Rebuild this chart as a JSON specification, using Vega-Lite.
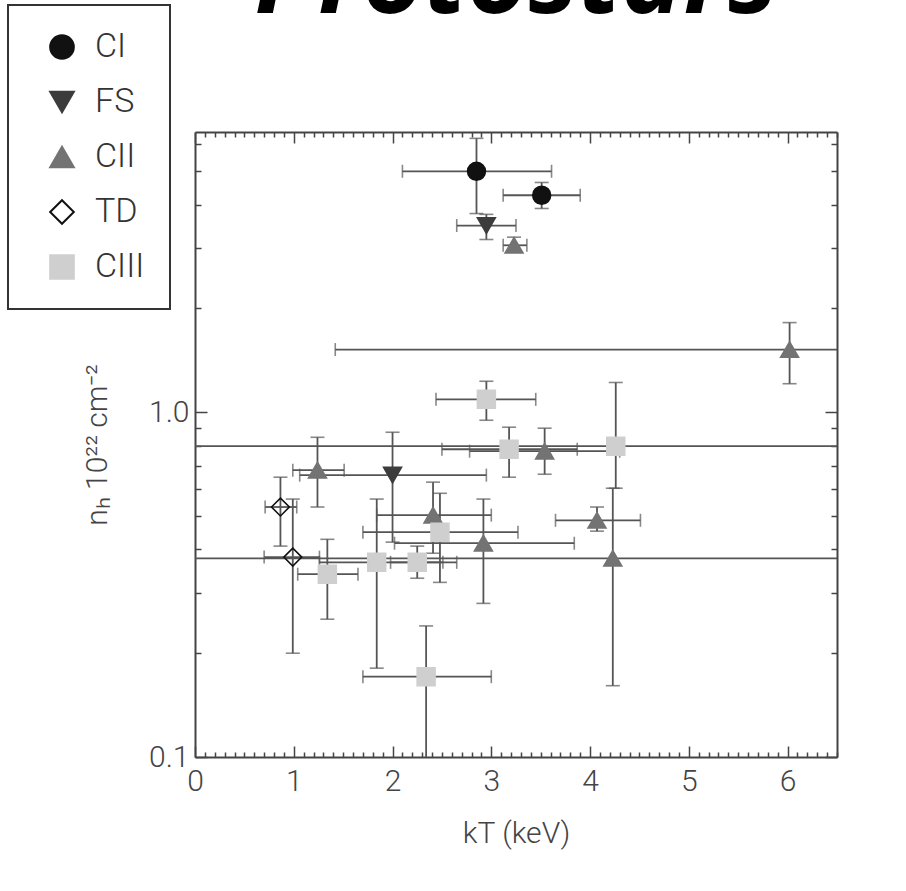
{
  "$schema": "https://vega.github.io/schema/vega-lite/v6.json",
  "width": 642,
  "height": 625,
  "autosize": "none",
  "padding": {"left": 195, "top": 132, "right": 69, "bottom": 134},
  "background": "white",
  "title": {"text": "Protostars", "font": "Open Sans", "fontSize": 105, "fontStyle": "italic", "fontWeight": "bold", "color": "#000000", "anchor": "middle", "frame": "group", "baseline": "alphabetic", "offset": 0, "dy": 114},
  "data": {"values": [
    {"cls": "CI", "x": 2.85, "y": 5.00, "xlo": 2.10, "xhi": 3.61, "ylo": 3.77, "yhi": 6.23},
    {"cls": "CI", "x": 3.51, "y": 4.26, "xlo": 3.12, "xhi": 3.90, "ylo": 3.90, "yhi": 4.64},
    {"cls": "FS", "x": 2.95, "y": 3.48, "xlo": 2.65, "xhi": 3.25, "ylo": 3.17, "yhi": 3.75},
    {"cls": "CII", "x": 3.23, "y": 3.05, "xlo": 3.12, "xhi": 3.36, "ylo": 2.95, "yhi": 3.22},
    {"cls": "CII", "x": 6.02, "y": 1.52, "xlo": 1.42, "xhi": 8.0, "ylo": 1.21, "yhi": 1.82},
    {"cls": "CIII", "x": 2.95, "y": 1.09, "xlo": 2.44, "xhi": 3.45, "ylo": 0.948, "yhi": 1.23},
    {"cls": "CIII", "x": 4.26, "y": 0.797, "xlo": -1.0, "xhi": 8.0, "ylo": 0.602, "yhi": 1.22},
    {"cls": "CIII", "x": 3.18, "y": 0.781, "xlo": 2.50, "xhi": 3.87, "ylo": 0.648, "yhi": 0.905},
    {"cls": "CII", "x": 3.54, "y": 0.771, "xlo": 2.78, "xhi": 4.30, "ylo": 0.661, "yhi": 0.899},
    {"cls": "CII", "x": 1.24, "y": 0.679, "xlo": 0.99, "xhi": 1.51, "ylo": 0.531, "yhi": 0.846},
    {"cls": "FS", "x": 2.00, "y": 0.657, "xlo": 1.06, "xhi": 2.95, "ylo": 0.420, "yhi": 0.875},
    {"cls": "TD", "x": 0.865, "y": 0.531, "xlo": 0.71, "xhi": 1.03, "ylo": 0.409, "yhi": 0.648},
    {"cls": "TD", "x": 0.99, "y": 0.380, "xlo": 0.70, "xhi": 1.26, "ylo": 0.200, "yhi": 0.560},
    {"cls": "CIII", "x": 1.34, "y": 0.339, "xlo": 1.04, "xhi": 1.65, "ylo": 0.251, "yhi": 0.428},
    {"cls": "CIII", "x": 1.84, "y": 0.367, "xlo": 1.26, "xhi": 2.51, "ylo": 0.181, "yhi": 0.560},
    {"cls": "CIII", "x": 2.25, "y": 0.367, "xlo": 1.98, "xhi": 2.65, "ylo": 0.330, "yhi": 0.409},
    {"cls": "CII", "x": 2.41, "y": 0.503, "xlo": 1.84, "xhi": 3.00, "ylo": 0.390, "yhi": 0.627},
    {"cls": "CIII", "x": 2.48, "y": 0.449, "xlo": 1.70, "xhi": 3.27, "ylo": 0.321, "yhi": 0.582},
    {"cls": "CII", "x": 2.92, "y": 0.417, "xlo": 2.02, "xhi": 3.84, "ylo": 0.279, "yhi": 0.560},
    {"cls": "CII", "x": 4.07, "y": 0.486, "xlo": 3.65, "xhi": 4.51, "ylo": 0.452, "yhi": 0.531},
    {"cls": "CII", "x": 4.23, "y": 0.377, "xlo": -1.0, "xhi": 8.0, "ylo": 0.161, "yhi": 0.602},
    {"cls": "CIII", "x": 2.34, "y": 0.171, "xlo": 1.70, "xhi": 3.00, "ylo": 0.05, "yhi": 0.240}
  ]},
  "layer": [
    {
      "mark": {"type": "rule", "color": "#555555", "strokeWidth": 1.8, "clip": true},
      "encoding": {
        "x": {"field": "xlo", "type": "quantitative", "scale": {"domain": [0, 6.5], "nice": false, "zero": false},
          "axis": {"orient": "top", "values": [0,0.1,0.2,0.3,0.4,0.5,0.6,0.7,0.8,0.9,1,1.1,1.2,1.3,1.4,1.5,1.6,1.7,1.8,1.9,2,2.1,2.2,2.3,2.4,2.5,2.6,2.7,2.8,2.9,3,3.1,3.2,3.3,3.4,3.5,3.6,3.7,3.8,3.9,4,4.1,4.2,4.3,4.4,4.5,4.6,4.7,4.8,4.9,5,5.1,5.2,5.3,5.4,5.5,5.6,5.7,5.8,5.9,6,6.1,6.2,6.3,6.4,6.5],
            "labels": false, "title": null, "grid": false,
            "tickSize": {"condition": {"test": "datum.value % 1 === 0", "value": -11}, "value": -5}}},
        "x2": {"field": "xhi"},
        "y": {"field": "y", "type": "quantitative", "scale": {"type": "log", "domain": [0.1, 6.5], "nice": false},
          "axis": {"orient": "right", "values": [0.1,0.2,0.3,0.4,0.5,0.6,0.7,0.8,0.9,1,2,3,4,5,6],
            "labels": false, "title": null, "grid": false,
            "tickSize": {"condition": {"test": "datum.value === 1 || datum.value === 0.1", "value": -12}, "value": -6}}}
      }
    },
    {
      "mark": {"type": "rule", "color": "#555555", "strokeWidth": 1.8, "clip": true},
      "encoding": {
        "x": {"field": "x", "type": "quantitative", "scale": {"domain": [0, 6.5], "nice": false, "zero": false}, "axis": null},
        "y": {"field": "ylo", "type": "quantitative", "scale": {"type": "log", "domain": [0.1, 6.5], "nice": false}, "axis": null},
        "y2": {"field": "yhi"}
      }
    },
    {
      "mark": {"type": "tick", "orient": "vertical", "size": 13, "thickness": 1.6, "color": "#555555", "clip": true},
      "encoding": {
        "x": {"field": "xlo", "type": "quantitative", "scale": {"domain": [0, 6.5], "nice": false, "zero": false}, "axis": null},
        "y": {"field": "y", "type": "quantitative", "scale": {"type": "log", "domain": [0.1, 6.5], "nice": false}, "axis": null}
      }
    },
    {
      "mark": {"type": "tick", "orient": "vertical", "size": 13, "thickness": 1.6, "color": "#555555", "clip": true},
      "encoding": {
        "x": {"field": "xhi", "type": "quantitative", "scale": {"domain": [0, 6.5], "nice": false, "zero": false}, "axis": null},
        "y": {"field": "y", "type": "quantitative", "scale": {"type": "log", "domain": [0.1, 6.5], "nice": false}, "axis": null}
      }
    },
    {
      "mark": {"type": "tick", "orient": "horizontal", "size": 14, "thickness": 1.6, "color": "#555555", "clip": true},
      "encoding": {
        "x": {"field": "x", "type": "quantitative", "scale": {"domain": [0, 6.5], "nice": false, "zero": false}, "axis": null},
        "y": {"field": "ylo", "type": "quantitative", "scale": {"type": "log", "domain": [0.1, 6.5], "nice": false}, "axis": null}
      }
    },
    {
      "mark": {"type": "tick", "orient": "horizontal", "size": 14, "thickness": 1.6, "color": "#555555", "clip": true},
      "encoding": {
        "x": {"field": "x", "type": "quantitative", "scale": {"domain": [0, 6.5], "nice": false, "zero": false}, "axis": null},
        "y": {"field": "yhi", "type": "quantitative", "scale": {"type": "log", "domain": [0.1, 6.5], "nice": false}, "axis": null}
      }
    },
    {
      "mark": {"type": "point", "filled": true, "size": 320, "strokeWidth": 1.6, "opacity": 1, "fillOpacity": 1, "strokeOpacity": 1},
      "encoding": {
        "x": {"field": "x", "type": "quantitative", "scale": {"domain": [0, 6.5], "nice": false, "zero": false},
          "axis": {"orient": "bottom", "values": [0,0.1,0.2,0.3,0.4,0.5,0.6,0.7,0.8,0.9,1,1.1,1.2,1.3,1.4,1.5,1.6,1.7,1.8,1.9,2,2.1,2.2,2.3,2.4,2.5,2.6,2.7,2.8,2.9,3,3.1,3.2,3.3,3.4,3.5,3.6,3.7,3.8,3.9,4,4.1,4.2,4.3,4.4,4.5,4.6,4.7,4.8,4.9,5,5.1,5.2,5.3,5.4,5.5,5.6,5.7,5.8,5.9,6,6.1,6.2,6.3,6.4,6.5],
            "labelExpr": "datum.value % 1 === 0 ? format(datum.value, 'd') : ''",
            "title": "kT (keV)", "grid": false, "labelOverlap": false, "labelFlush": false, "labelBound": false,
            "labelPadding": 20, "titlePadding": 16,
            "tickSize": {"condition": {"test": "datum.value % 1 === 0", "value": -11}, "value": -5}}},
        "y": {"field": "y", "type": "quantitative", "scale": {"type": "log", "domain": [0.1, 6.5], "nice": false},
          "axis": {"orient": "left", "values": [0.1,0.2,0.3,0.4,0.5,0.6,0.7,0.8,0.9,1,2,3,4,5,6],
            "labelExpr": "datum.value === 1 ? '1.0' : (datum.value === 0.1 ? '0.1' : '')",
            "title": "nₕ 10²² cm⁻²", "grid": false, "labelOverlap": false, "labelFlush": false, "labelBound": false,
            "labelPadding": 18, "titlePadding": 36,
            "tickSize": {"condition": {"test": "datum.value === 1 || datum.value === 0.1", "value": -12}, "value": -6}}},
        "shape": {"field": "cls", "type": "nominal",
          "scale": {"domain": ["CI", "FS", "CII", "TD", "CIII"], "range": ["circle", "triangle-down", "triangle-up", "diamond", "square"]},
          "legend": {"orient": "none", "legendX": -187, "legendY": -127, "title": null}},
        "fill": {"field": "cls", "type": "nominal",
          "scale": {"domain": ["CI", "FS", "CII", "TD", "CIII"], "range": ["#111111", "#3c3c3c", "#737373", "transparent", "#cfcfcf"]},
          "legend": {"orient": "none", "legendX": -187, "legendY": -127, "title": null}},
        "stroke": {"field": "cls", "type": "nominal",
          "scale": {"domain": ["CI", "FS", "CII", "TD", "CIII"], "range": ["#111111", "#3c3c3c", "#737373", "#111111", "#cfcfcf"]},
          "legend": {"orient": "none", "legendX": -187, "legendY": -127, "title": null}}
      }
    }
  ],
  "resolve": {"axis": {"x": "independent", "y": "independent"}},
  "config": {
    "view": {"stroke": null},
    "axis": {
      "domainColor": "#444444", "domainWidth": 2, "tickColor": "#444444", "tickWidth": 1.5,
      "labelFont": "Roboto", "labelFontWeight": 300, "labelFontSize": 30, "labelColor": "#444444",
      "titleFont": "Roboto", "titleFontWeight": 300, "titleFontSize": 30, "titleColor": "#444444"
    },
    "legend": {
      "symbolSize": 560, "symbolStrokeWidth": 2, "labelFont": "Roboto", "labelFontWeight": 300,
      "labelFontSize": 34, "labelColor": "#333333", "strokeColor": "#333333", "strokeWidth": 2,
      "fillColor": "white", "padding": 25, "rowPadding": 21, "labelOffset": 16, "symbolOffset": 12
    }
  }
}
